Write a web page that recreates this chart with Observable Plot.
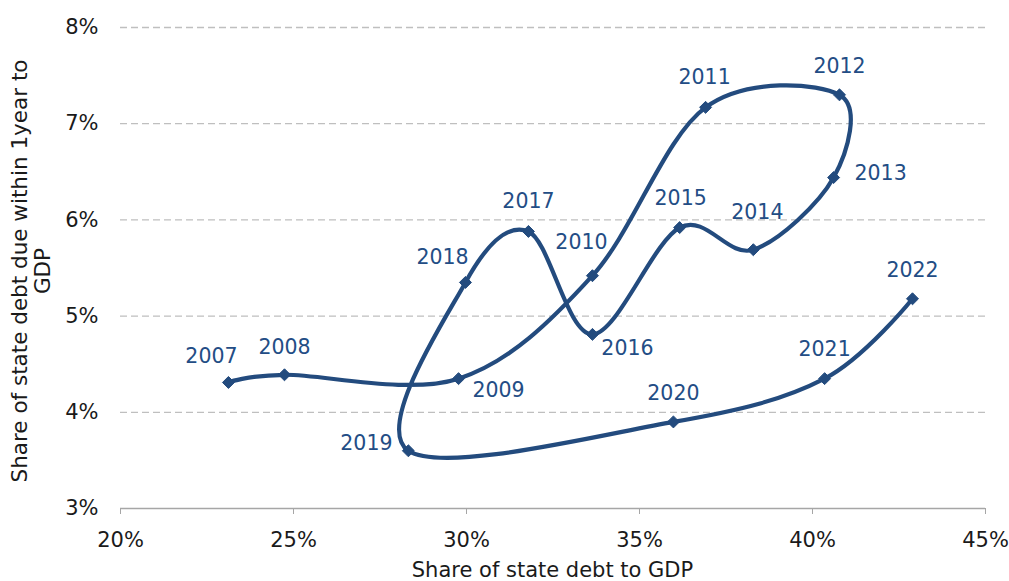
<!DOCTYPE html>
<html><head><meta charset="utf-8">
<script src="https://cdn.jsdelivr.net/npm/d3@7"></script>
<script src="https://cdn.jsdelivr.net/npm/@observablehq/plot@0.6"></script>
<style>
html,body{margin:0;padding:0;background:#fff;}
#chart svg{display:block;}
</style></head><body><div id="chart"></div>
<script>
const years = [2007, 2008, 2009, 2010, 2011, 2012, 2013, 2014, 2015, 2016, 2017, 2018, 2019, 2020, 2021, 2022];
const debtShare = [23.12, 24.74, 29.77, 33.64, 36.91, 40.78, 40.61, 38.29, 36.16, 33.64, 31.79, 29.97, 28.32, 35.98, 40.35, 42.89];
const shortDebtShare = [4.31, 4.39, 4.35, 5.42, 7.17, 7.30, 6.44, 5.69, 5.92, 4.81, 5.88, 5.35, 3.60, 3.90, 4.35, 5.18];
const xTicks = [20, 25, 30, 35, 40, 45];
const yTicks = [3, 4, 5, 6, 7, 8];
const xTitle = "Share of state debt to GDP";
const yTitleLines = ["Share of state debt due within 1year to", "GDP"];

// label placement (pixel offsets from each marker)
const labelOffsets = {
  2007: [-17, -26], 2008: [0, -27], 2009: [40, 12], 2010: [-11, -33],
  2011: [-1, -30], 2012: [0, -28], 2013: [47, -4], 2014: [4, -37],
  2015: [1, -29], 2016: [35, 14], 2017: [0, -30], 2018: [-23, -25],
  2019: [-42, -7], 2020: [0, -28], 2021: [0, -29], 2022: [0, -28]
};

const data = years.map((yr, i) => ({year: yr, x: debtShare[i], y: shortDebtShare[i]}));

const lineColor = "#234b7e";
const labelColor = "#234d85";
const font = "DejaVu Sans, Verdana, sans-serif";

const W = 1009, H = 581;
const chart = Plot.plot({
  width: W, height: H,
  marginLeft: 120, marginRight: 24, marginTop: 27, marginBottom: 73,
  style: {fontFamily: font, fontSize: "21px", color: "#1a1a1a", background: "#fff"},
  x: {domain: [20, 45]},
  y: {domain: [3, 8]},
  marks: [
    Plot.gridY(yTicks.filter(d => d !== 3), {stroke: "#bfbfbf", strokeOpacity: 1, strokeWidth: 1.3, strokeDasharray: "7,4"}),
    Plot.ruleY([3], {stroke: "#a6a6a6", strokeWidth: 1.3}),
    Plot.axisX({ticks: xTicks, tickFormat: d => d + "%", tickSize: 6, tickPadding: 18, stroke: "#a6a6a6", label: null}),
    Plot.axisY({ticks: yTicks, tickFormat: d => d + "%", tickSize: 0, tickPadding: 22, label: null}),
    Plot.line(data, {x: "x", y: "y", curve: "cardinal", tension: 0, stroke: lineColor, strokeWidth: 4.2}),
    Plot.dot(data, {x: "x", y: "y", symbol: "diamond2", r: 5.4, fill: lineColor, stroke: lineColor, strokeWidth: 1}),
    ...data.map(d => Plot.text([d], {
      x: "x", y: "y", text: dd => String(dd.year),
      dx: labelOffsets[d.year][0], dy: labelOffsets[d.year][1],
      fill: labelColor, fontSize: 20.5, fontFamily: font
    }))
  ]
});

const svg = d3.select(chart);
svg.append("text")
  .attr("x", (120 + (W - 24)) / 2).attr("y", 577)
  .attr("text-anchor", "middle")
  .attr("font-family", font).attr("font-size", 21).attr("fill", "#1a1a1a")
  .text(xTitle);

const yCenter = 271;
yTitleLines.forEach((t, i) => {
  svg.append("text")
    .attr("transform", `translate(${27 + i * 23},${yCenter}) rotate(-90)`)
    .attr("text-anchor", "middle")
    .attr("font-family", font).attr("font-size", 21.5).attr("fill", "#1a1a1a")
    .text(t);
});

document.getElementById("chart").appendChild(chart);
</script>
</body></html>
